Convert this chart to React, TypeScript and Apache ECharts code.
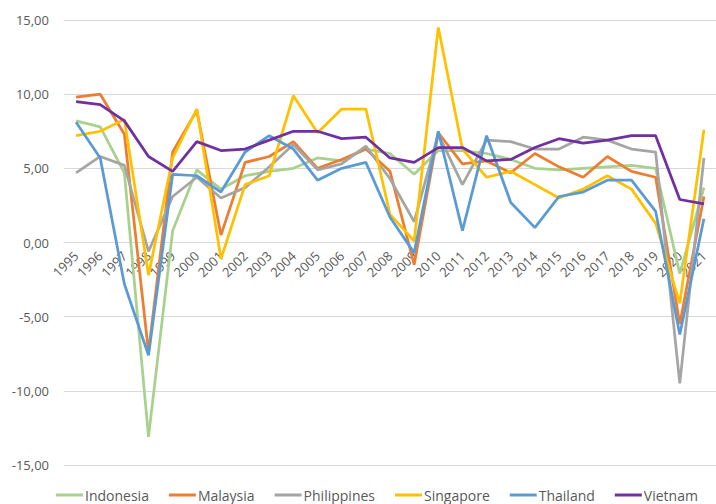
import React, { useEffect, useRef } from "react";
import * as echarts from "echarts";

const years = ["1995","1996","1997","1998","1999","2000","2001","2002","2003","2004","2005","2006","2007","2008","2009","2010","2011","2012","2013","2014","2015","2016","2017","2018","2019","2020","2021"];

const indonesia = [8.2, 7.8, 4.7, -13.1, 0.8, 4.9, 3.6, 4.5, 4.8, 5.0, 5.7, 5.5, 6.3, 6.0, 4.6, 6.2, 6.2, 6.0, 5.6, 5.0, 4.9, 5.0, 5.1, 5.2, 5.0, -2.1, 3.7];
const malaysia = [9.8, 10.0, 7.3, -7.4, 6.1, 8.9, 0.5, 5.4, 5.8, 6.8, 5.0, 5.6, 6.3, 4.8, -1.5, 7.4, 5.3, 5.5, 4.7, 6.0, 5.1, 4.4, 5.8, 4.8, 4.4, -5.5, 3.1];
const philippines = [4.7, 5.8, 5.2, -0.6, 3.1, 4.4, 3.0, 3.7, 5.1, 6.6, 4.9, 5.3, 6.5, 4.3, 1.4, 7.3, 3.9, 6.9, 6.8, 6.3, 6.3, 7.1, 6.9, 6.3, 6.1, -9.5, 5.7];
const singapore = [7.2, 7.5, 8.3, -2.2, 5.7, 9.0, -1.1, 3.9, 4.5, 9.9, 7.4, 9.0, 9.0, 1.9, 0.1, 14.5, 6.3, 4.4, 4.8, 3.9, 3.0, 3.6, 4.5, 3.6, 1.3, -4.1, 7.6];
const thailand = [8.1, 5.7, -2.8, -7.6, 4.6, 4.5, 3.4, 6.1, 7.2, 6.3, 4.2, 5.0, 5.4, 1.7, -0.7, 7.5, 0.8, 7.2, 2.7, 1.0, 3.1, 3.4, 4.2, 4.2, 2.1, -6.2, 1.6];
const vietnam = [9.5, 9.3, 8.2, 5.8, 4.8, 6.8, 6.2, 6.3, 6.9, 7.5, 7.5, 7.0, 7.1, 5.7, 5.4, 6.4, 6.4, 5.5, 5.6, 6.4, 7.0, 6.7, 6.9, 7.2, 7.2, 2.9, 2.6];

const seriesDefs = [
  { name: "Indonesia", data: indonesia, color: "#A9D18E" },
  { name: "Malaysia", data: malaysia, color: "#ED7D31" },
  { name: "Philippines", data: philippines, color: "#A5A5A5" },
  { name: "Singapore", data: singapore, color: "#FFC000" },
  { name: "Thailand", data: thailand, color: "#5B9BD5" },
  { name: "Vietnam", data: vietnam, color: "#7030A0" },
];

const FONT = "'Open Sans', sans-serif";
const GRID_TOP = 20;
const GRID_H = 445;

export default function App() {
  const ref = useRef<HTMLDivElement>(null);
  useEffect(() => {
    document.body.style.margin = "0";
    if (!ref.current) return;
    const chart = echarts.init(ref.current, undefined, { renderer: "svg" });
    chart.setOption({
      animation: false,
      backgroundColor: "#ffffff",
      grid: { left: 64, top: GRID_TOP, width: 664, height: GRID_H },
      legend: {
        top: 483,
        left: 51,
        itemGap: 20,
        itemWidth: 27,
        itemHeight: 3,
        icon: "rect",
        textStyle: { color: "#595959", fontSize: 14, fontFamily: FONT, padding: [0, 0, 0, -3] },
        data: seriesDefs.map((s) => s.name),
      },
      xAxis: {
        type: "category",
        data: years,
        boundaryGap: true,
        offset: -GRID_H / 2,
        axisLine: { onZero: false, lineStyle: { color: "#D9D9D9" } },
        axisTick: { show: false },
        axisLabel: {
          rotate: 45,
          interval: 0,
          color: "#595959",
          fontSize: 13,
          fontFamily: FONT,
          margin: 11,
        },
      },
      yAxis: {
        type: "value",
        min: -15,
        max: 15,
        interval: 5,
        axisLine: { show: false },
        axisTick: { show: false },
        splitLine: { lineStyle: { color: "#D9D9D9", width: 1 } },
        axisLabel: {
          color: "#595959",
          fontSize: 13,
          fontFamily: FONT,
          margin: 15,
          formatter: (v: number) => v.toFixed(2).replace(".", ","),
        },
      },
      series: seriesDefs.map((s) => ({
        name: s.name,
        type: "line",
        data: s.data,
        symbol: "none",
        color: s.color,
        lineStyle: { color: s.color, width: 2.75 },
      })),
    });
    return () => chart.dispose();
  }, []);
  return <div ref={ref} style={{ width: 716, height: 504 }} />;
}
